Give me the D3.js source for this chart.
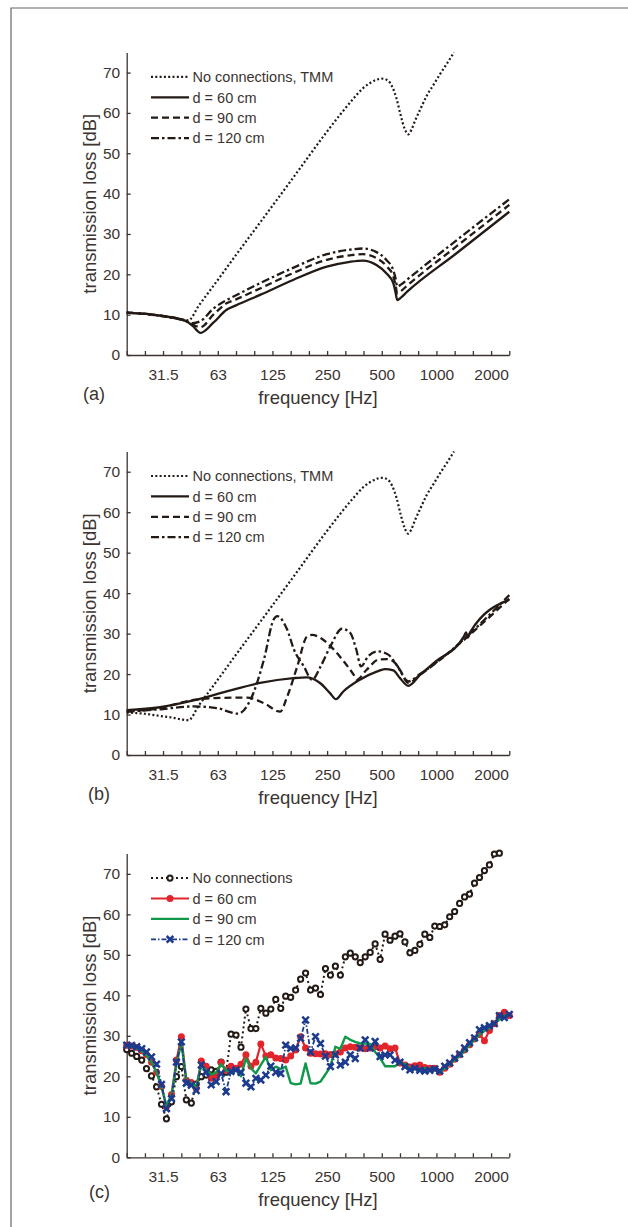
<!DOCTYPE html>
<html>
<head>
<meta charset="utf-8">
<script src="https://cdn.jsdelivr.net/npm/d3@7"></script>
<style>
  body { margin: 0; background: #fff; }
  svg text { font-family: Arial, "Liberation Sans", Helvetica, sans-serif; fill: #3b3430; }
</style>
</head>
<body>
<svg id="chart" width="628" height="1227"></svg>
<script>
// third-octave band centres on the axis and their printed labels
const bandCentres = [20, 25.2, 31.7, 40, 50.4, 63.5, 80, 100.8, 127, 160, 201.6, 254, 320, 403, 508, 640, 806, 1016, 1280, 1613, 2032, 2560];
const bandLabels = ["", "", "31.5", "", "", "63", "", "", "125", "", "", "250", "", "", "500", "", "", "1000", "", "", "2000", ""];
const yTicks = [0, 10, 20, 30, 40, 50, 60, 70];

// (a) and (b): no connections, transfer matrix model
const tmmFreq = [20, 25, 30, 36, 40, 43.7, 50, 63, 80, 108, 160, 250, 300, 354, 400, 437, 480, 510, 550, 580, 613, 645, 680, 711, 740, 774, 830, 897, 980, 1063, 1160, 1270];
const tmmTL = [10.5, 10.2, 9.7, 9.2, 8.8, 8.6, 12.3, 18.4, 24.8, 32.7, 43.1, 55, 59.6, 63.5, 66.1, 67.4, 68.3, 68.5, 68, 66.5, 63.5, 59.5, 56, 54.7, 55.8, 58, 61, 64.2, 67, 69.6, 72.2, 75];

// (a)
const aFreq = [20, 30, 42, 46, 51, 60, 71, 80, 108.5, 165, 253, 339, 400, 475, 540, 588, 605, 618, 650, 701, 1300, 2560];
const a60 = [10.5, 9.8, 8.5, 7.3, 5.5, 8, 11.2, 12.3, 14.9, 18.6, 21.9, 23.1, 23.4, 22.3, 20.2, 17.8, 15.5, 13.6, 14.3, 15.7, 25.1, 35.5];
const a90 = [10.5, 9.8, 8.5, 7.6, 6.9, 10, 12.8, 13.8, 16.5, 20.3, 23.6, 24.7, 25, 24, 22, 19.5, 17.3, 15.3, 15.9, 17.2, 26.8, 37.2];
const a120 = [10.5, 9.8, 8.5, 7.9, 8.4, 11.5, 13.6, 14.8, 17.8, 21.6, 25, 26.1, 26.4, 25.5, 23.5, 21, 19, 17, 17.5, 18.7, 28.3, 38.6];

// (b)
const b60Freq = [20, 30.5, 46.6, 71, 108.5, 165.5, 196, 232, 263.5, 284, 312, 385, 476, 529, 588, 640, 711, 825, 1000, 1440, 1480, 1510, 1560, 2560];
const b60 = [11.1, 11.8, 13.5, 15.7, 17.8, 19, 19.2, 17.8, 15.3, 13.8, 15.7, 18.6, 20.6, 21.2, 20.9, 19, 17.1, 19.8, 23, 29.3, 30.3, 29, 30.4, 38.4];
const b90Freq = [20, 30.5, 46.6, 57.5, 92, 114, 140, 153, 174, 197, 210, 234, 265, 314, 356, 370, 418, 490, 545, 590, 640, 711, 825, 2560];
const b90 = [10.7, 11.6, 13.6, 14, 14.2, 12.8, 10.7, 14.4, 21.9, 29.3, 29.7, 28.9, 26.9, 23.1, 19.8, 18.6, 21, 23.6, 23.7, 23.1, 21, 17.8, 19.8, 38.6];
const b120Freq = [20, 30.5, 46.6, 62.6, 82, 96, 114, 129, 135, 153, 167, 189, 210, 234, 265, 307, 340, 368, 390, 428, 483, 552, 613, 711, 825, 2560];
const b120 = [10.7, 11.3, 12, 11.6, 10.2, 13.6, 23.6, 33.5, 34.3, 31, 26, 21.9, 18.6, 21.9, 26.9, 31.2, 30.2, 26, 21.9, 24.4, 25.6, 24.8, 22.3, 18.2, 20, 39.5];

// (c): measured values, read at the plotted frequency points
const cFreq = [20, 21.3, 22.7, 24.2, 25.7, 27.4, 29.2, 31.1, 33.1, 35.3, 37.6,
  40, 42.6, 45.4, 48.3, 51.5, 54.8, 58.4, 62.2, 66.2, 70.5, 75.1,
  80, 85.2, 90.7, 96.7, 102.9, 109.6, 116.8, 124.4, 132.4, 141.1, 150.2,
  160, 170.4, 181.5, 193.3, 205.9, 219.3, 233.5, 248.7, 264.9, 282.1, 300.5,
  320, 340.8, 363, 386.6, 411.7, 438.5, 467, 497.4, 529.7, 564.2, 600.9,
  640, 681.6, 726, 773.2, 823.5, 877, 934.1, 994.8, 1059.5, 1128.4, 1201.8,
  1280, 1363.2, 1451.9, 1546.3, 1646.9, 1754, 1868.1, 1989.6, 2119, 2256.8, 2403.6, 2560];
const cNone = [26.6, 25.7, 24.9, 24, 21.9, 20.1, 17.4, 13.1, 9.5, 13.7, 19.9,
  22.4, 14.2, 13.4, 18.1, 19.9, 20.3, 21.6, 21.2, 23.5, 21, 30.4,
  30.2, 27.2, 36.6, 31.8, 31.8, 36.8, 35.6, 36.6, 39, 36.8, 39.8,
  39.5, 41.3, 44, 45.5, 41.3, 41.8, 40.2, 46.6, 45, 47.2, 45,
  49.5, 50.4, 49.5, 48.1, 49.5, 50.6, 52.7, 48.9, 55.1, 53.6, 54.6,
  55.2, 53.2, 50.5, 51.1, 52.6, 55.1, 54.3, 57.1, 57, 57.4, 59.4,
  60.7, 62.7, 64.3, 65, 67.7, 69.1, 70.8, 72.2, 74.9, 75.1, null, null];
const c60 = [27.7, 27.5, 27.1, 26.3, 25.3, 23.5, 21, 17.5, 12.5, 15.5, 24,
  29.8, 19, 18.5, 17, 23.8, 22.5, 19.5, 20, 23.4, 21.5, 22.5,
  22, 23, 25.3, 22.5, 23.5, 28, 25, 25.3, 24.5, 24.4, 24,
  25, 26.5, 29.8, 27, 25.7, 25.6, 25.5, 25.6, 25.4, 25.6, 26,
  27, 27.3, 27.2, 27, 26.8, 27, 27.3, 27, 27.5, 26.8, 27,
  23.3, 22.8, 22.3, 22.6, 22.8, 22.2, 22, 22, 21, 22, 23,
  24.2, 25.3, 26.5, 27.8, 29.2, 30.3, 28.8, 31.3, 33, 35, 35.8, 35];
const c90 = [27.4, 27.3, 26.9, 26.2, 25.2, 23.4, 21, 17.5, 12.7, 15.3, 23,
  28.3, 18.8, 18.3, 17.5, 22.8, 21.5, 20.5, 21, 23, 21.5, 20.8,
  21.5, 20, 24.4, 22, 20.7, 22.8, 24.8, 21.5, 22.4, 21.8, 22.4,
  18.3, 18, 18.2, 23.2, 18.3, 18.2, 18.7, 20.5, 22.4, 27.3, 26.8,
  29.8, 29, 28.5, 28.1, 28.1, 28, 26, 24.5, 22.5, 22.5, 22.5,
  23.4, 23, 22, 22, 21.7, 22, 21.8, 21.5, 21, 22, 23,
  24, 25, 26.3, 27.7, 29, 30.3, 31.2, 32, 33, 34, 35, 35.2];
const c120 = [27.7, 27.6, 27.3, 26.8, 26, 24.8, 23, 18, 12, 14.5, 23.5,
  28.5, 18.3, 17.8, 16.5, 22.8, 21, 17.9, 18.7, 20.7, 16.2, 21.2,
  21.6, 21, 18.3, 17.4, 19.5, 19.1, 20.3, 22.5, 21, 20.7, 27.7,
  26.9, 27, 29.4, 33.9, 26, 29.8, 28.1, 25, 22.4, 25.3, 22.8,
  23.5, 25.3, 24.4, 27, 29, 27, 28.6, 24.9, 25.3, 25.3, 24,
  23.5, 22.4, 21.6, 22, 21.5, 21.3, 21.5, 21.8, 21.3, 22.5, 23.3,
  24.5, 25.5, 27, 28.3, 29.5, 31.5, 32, 32.5, 33, 35, 34.5, 35.3];

const legendAB = ["No connections, TMM", "d = 60 cm", "d = 90 cm", "d = 120 cm"];
const legendC = ["No connections", "d = 60 cm", "d = 90 cm", "d = 120 cm"];

const ink = "#231a15";
const axisInk = "#3b3430";
const svg = d3.select("#chart");

// frame
svg.append("path").attr("d", "M11,1227V8H628").attr("fill", "none").attr("stroke", "#666").attr("stroke-width", 1.2);

const x = d3.scaleLog().domain([20, 2560]).range([126.7, 509.3]);

const styles = {
  tmm: { stroke: ink, width: 2.2, dash: "2,2.3" },
  d60: { stroke: ink, width: 2.3, dash: null },
  d90: { stroke: ink, width: 2.3, dash: "7,4" },
  d120: { stroke: ink, width: 2.3, dash: "8,3,2.5,3" },
  cNone: { stroke: ink, width: 2, dash: "2,3", marker: "o" },
  c60: { stroke: "#e2242b", width: 2.2, dash: null, marker: "dot" },
  c90: { stroke: "#10984a", width: 2.4, dash: null },
  c120: { stroke: "#1d3b8e", width: 1.8, dash: "5,2,1.5,2", marker: "x" }
};

function drawPanel(p) {
  const y = d3.scaleLinear().domain([0, 75]).range([p.bottom, p.top]);
  const g = svg.append("g");

  const xAxis = g.append("g").attr("transform", `translate(0,${p.bottom})`)
    .call(d3.axisBottom(x).tickValues(bandCentres).tickFormat((d, i) => bandLabels[i])
      .tickSize(-4).tickSizeOuter(0).tickPadding(13.5));
  const yAxis = g.append("g").attr("transform", `translate(${x.range()[0]},0)`)
    .call(d3.axisLeft(y).tickValues(yTicks).tickSize(-4).tickSizeOuter(0).tickPadding(6.5));
  [xAxis, yAxis].forEach(a => {
    a.selectAll("path, line").attr("stroke", axisInk).attr("stroke-width", 1.3);
    a.selectAll("text").style("font-size", "15.5px").attr("fill", axisInk);
  });

  g.append("text").attr("x", 318).attr("y", p.bottom + 49).attr("text-anchor", "middle")
    .style("font-size", "18.5px").text("frequency [Hz]");
  g.append("text").attr("transform", `translate(96,${(p.top + p.bottom) / 2}) rotate(-90)`)
    .attr("text-anchor", "middle").style("font-size", "18.5px").text("transmission loss [dB]");
  g.append("text").attr("x", p.letterX).attr("y", p.bottom + p.letterDy)
    .style("font-size", "18px").text(p.letter);

  const line = d3.line().x(d => x(d[0])).y(d => y(d[1])).curve(p.curve);

  p.series.forEach(s => {
    const st = styles[s.style];
    const pts = s.freq.map((f, i) => [f, s.tl[i]]).filter(d => d[1] != null);
    g.append("path").datum(pts).attr("d", line).attr("fill", "none")
      .attr("stroke", st.stroke).attr("stroke-width", st.width)
      .attr("stroke-dasharray", st.dash).attr("stroke-linejoin", "round");
    drawMarkers(g, pts.map(d => [x(d[0]), y(d[1])]), st);
  });

  // legend
  p.legend.forEach((label, i) => {
    const st = styles[p.series[i].style];
    const ly = p.top + 24.5 + i * 20.4;
    g.append("line").attr("x1", 151).attr("x2", 189).attr("y1", ly).attr("y2", ly)
      .attr("stroke", st.stroke).attr("stroke-width", st.width).attr("stroke-dasharray", st.dash);
    drawMarkers(g, [[170, ly]], st);
    g.append("text").attr("x", 192.5).attr("y", ly).attr("dy", "0.36em")
      .style("font-size", "14.5px").text(label);
  });
}

function drawMarkers(g, pts, st) {
  if (st.marker === "o") {
    g.append("g").selectAll("circle").data(pts).join("circle")
      .attr("cx", d => d[0]).attr("cy", d => d[1]).attr("r", 2.6)
      .attr("fill", "#fff").attr("stroke", st.stroke).attr("stroke-width", 2);
  } else if (st.marker === "dot") {
    g.append("g").selectAll("circle").data(pts).join("circle")
      .attr("cx", d => d[0]).attr("cy", d => d[1]).attr("r", 3.5).attr("fill", st.stroke);
  } else if (st.marker === "x") {
    g.append("g").selectAll("path").data(pts).join("path")
      .attr("d", d => `M${d[0] - 3.3},${d[1] - 3.3}L${d[0] + 3.3},${d[1] + 3.3}M${d[0] - 3.3},${d[1] + 3.3}L${d[0] + 3.3},${d[1] - 3.3}`)
      .attr("stroke", st.stroke).attr("stroke-width", 2.5);
  }
}

drawPanel({
  top: 52.4, bottom: 355, letter: "(a)", letterX: 83, letterDy: 45, curve: d3.curveMonotoneX,
  legend: legendAB,
  series: [
    { freq: tmmFreq, tl: tmmTL, style: "tmm" },
    { freq: aFreq, tl: a60, style: "d60" },
    { freq: aFreq, tl: a90, style: "d90" },
    { freq: aFreq, tl: a120, style: "d120" }
  ]
});

drawPanel({
  top: 451.5, bottom: 755, letter: "(b)", letterX: 88, letterDy: 45, curve: d3.curveMonotoneX,
  legend: legendAB,
  series: [
    { freq: tmmFreq, tl: tmmTL, style: "tmm" },
    { freq: b60Freq, tl: b60, style: "d60" },
    { freq: b90Freq, tl: b90, style: "d90" },
    { freq: b120Freq, tl: b120, style: "d120" }
  ]
});

drawPanel({
  top: 853.6, bottom: 1157.3, letter: "(c)", letterX: 89, letterDy: 41, curve: d3.curveLinear,
  legend: legendC,
  series: [
    { freq: cFreq, tl: cNone, style: "cNone" },
    { freq: cFreq, tl: c60, style: "c60" },
    { freq: cFreq, tl: c90, style: "c90" },
    { freq: cFreq, tl: c120, style: "c120" }
  ]
});
</script>
</body>
</html>
